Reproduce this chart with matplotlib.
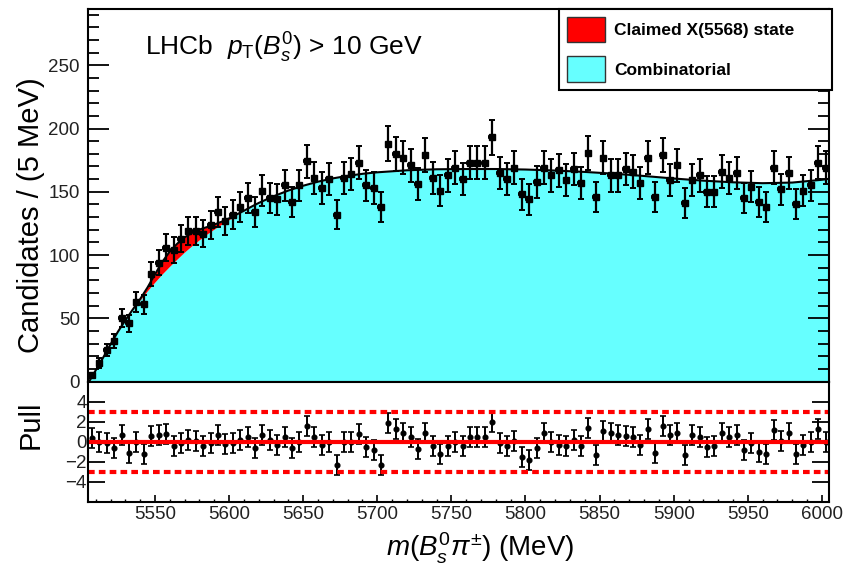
import numpy as np
import matplotlib
matplotlib.use("Agg")
import matplotlib.pyplot as plt
from matplotlib.patches import Patch
from matplotlib.ticker import MultipleLocator

plt.rcParams['font.family'] = ['Liberation Sans', 'DejaVu Sans']
plt.rcParams['mathtext.fontset'] = 'custom'
plt.rcParams['mathtext.rm'] = 'Liberation Sans'
plt.rcParams['mathtext.it'] = 'Liberation Sans:italic'
plt.rcParams['mathtext.bf'] = 'Liberation Sans:bold'

# binning: 5 MeV bins from 5505 to 6005
bin_lo = 5505
bin_w = 5
counts = [5, 15, 25, 32, 50, 46, 63, 61, 85, 94,
          106, 104, 113, 119, 119, 117, 124, 134, 127, 132,
          138, 145, 134, 151, 145, 144, 155, 142, 155, 174,
          161, 153, 160, 132, 161, 164, 173, 155, 153, 138,
          188, 180, 177, 171, 156, 179, 161, 151, 163, 169,
          160, 173, 173, 173, 193, 165, 160, 169, 148, 144,
          158, 169, 163, 167, 159, 168, 157, 181, 146, 177,
          163, 163, 168, 166, 157, 177, 146, 179, 159, 171,
          141, 159, 163, 150, 150, 166, 161, 165, 145, 154,
          142, 138, 169, 152, 165, 140, 151, 155, 173, 169]

pulls = [0.34, 0.0, -0.16, -0.6, 0.67, -1.1, 0.0, -1.23, 0.6, 0.67,
         0.77, -0.43, -0.16, 0.17, 0.07, -0.43, -0.1, 0.67, -0.26, -0.16,
         0.17, 0.5, -0.66, 0.67, 0.17, -0.33, 0.44, -0.66, 0.0, 1.57,
         0.44, -0.33, 0.0, -2.33, 0.0, 0.0, 0.77, -0.5, -0.83, -2.33,
         1.84, 1.24, 0.84, 0.44, -0.75, 0.9, -0.4, -1.23, -0.4, 0.0,
         -0.43, 0.44, 0.44, 0.5, 2.0, -0.16, -0.4, 0.1, -1.56, -1.83,
         -0.66, 0.84, 0.0, -0.33, -0.4, 0.17, -0.4, 1.4, -1.33, 1.1,
         0.84, 0.67, 0.57, 0.44, -0.33, 1.24, -1.1, 1.57, 0.67, 0.9,
         -1.33, 0.67, 0.44, -0.5, -0.43, 0.84, 0.44, 0.67, -0.83, -0.1,
         -1.0, -1.23, 1.17, 0.07, 0.84, -1.23, -0.33, 0.0, 1.24, 0.0]

# combinatorial background shape
bg_mass = [5505, 5506, 5510, 5515, 5520, 5525, 5530, 5535, 5540, 5545,
           5550, 5555, 5560, 5565, 5570, 5575, 5580, 5585, 5590, 5595,
           5600, 5605, 5610, 5615, 5620, 5630, 5640, 5650, 5660, 5670,
           5680, 5690, 5700, 5720, 5740, 5760, 5780, 5800, 5820, 5840,
           5860, 5880, 5900, 5920, 5940, 5960, 5980, 6000, 6005]
bg_vals = [0, 1, 9, 19, 29.5, 39.5, 48.5, 57, 64.5, 72,
           78.8, 85.3, 91.3, 97, 102.5, 107.5, 112.2, 116.6, 120.6, 124.4,
           128, 131.6, 135, 138.2, 141.2, 146.5, 151, 154.8, 158, 160.6,
           162.6, 164.2, 165.4, 167, 167.8, 168, 168, 167.6, 166.8, 165.7,
           164.3, 162.5, 160.5, 158.8, 157.5, 156.8, 157.3, 159.5, 160.3]

# claimed X(5568) contribution on top of the background
sig_mass = [5540, 5545, 5550, 5555, 5560, 5565, 5570, 5575, 5580, 5585,
            5590, 5595, 5600, 5605, 5610]
sig_vals = [0.8, 2.5, 6, 9.5, 11.5, 12, 11.5, 10, 8, 5.5,
            3.5, 2, 1, 0.4, 0]

centers = bin_lo + bin_w * (np.arange(len(counts)) + 0.5)
counts = np.array(counts, dtype=float)
bg_mass = np.array(bg_mass, dtype=float)
bg_vals = np.array(bg_vals, dtype=float)
total = bg_vals.copy()
idx = np.searchsorted(bg_mass, sig_mass)
total[idx] += np.array(sig_vals)

cyan = '#66ffff'

fig = plt.figure(figsize=(8.46, 5.69), dpi=100)
W, H = 846.0, 569.0
x0, x1 = 88.3, 829.3
ax = fig.add_axes([x0 / W, (H - 381.7) / H, (x1 - x0) / W, (381.7 - 9) / H])
axp = fig.add_axes([x0 / W, (H - 501.7) / H, (x1 - x0) / W, 120 / H])

# main panel
ax.fill_between(bg_mass, 0, bg_vals, color=cyan, lw=0, zorder=1)
ax.fill_between(bg_mass, bg_vals, total, where=total > bg_vals + 0.01,
                color='red', lw=0, zorder=1.5)
ax.plot(bg_mass, total, color='k', lw=1.5, zorder=2)
ax.errorbar(centers, counts, xerr=bin_w / 2, fmt='none', ecolor='k',
            elinewidth=2.6, zorder=3)
ax.errorbar(centers, counts, yerr=np.sqrt(counts), fmt='s', ms=4,
            color='k', elinewidth=1.6, capsize=2.3, capthick=1.4, zorder=3)

ax.set_xlim(5505, 6005)
ax.set_ylim(0, 294.4)
ax.yaxis.set_major_locator(MultipleLocator(50))
ax.yaxis.set_minor_locator(MultipleLocator(10))
ax.tick_params(axis='y', which='both', direction='in', left=True, right=True,
               labelsize=13.5, pad=6, width=1.3, labelcolor='#222222')
ax.tick_params(axis='y', which='major', length=15)
ax.tick_params(axis='y', which='minor', length=8)
ax.tick_params(axis='x', which='both', bottom=False, labelbottom=False)
for s in ax.spines.values():
    s.set_linewidth(1.5)
    s.set_zorder(5)

handles = [Patch(facecolor='red', edgecolor='#333333', lw=1),
           Patch(facecolor=cyan, edgecolor='#333333', lw=1)]
leg = ax.legend(handles, ['Claimed X(5568) state', 'Combinatorial'],
                loc='upper left', bbox_to_anchor=(0.6352, 0.745, 0.3678, 0.255),
                mode='expand', borderaxespad=0, fancybox=False, framealpha=1,
                prop={'weight': 'bold', 'size': 12.5}, handlelength=2.2,
                handleheight=1.9, borderpad=0.44, labelspacing=0.8,
                handletextpad=0.52)
leg.get_frame().set_edgecolor('k')
leg.get_frame().set_linewidth(1.5)
leg.set_zorder(6)

fig.text(145 / W, 1 - 56 / H,
         r'LHCb  $\mathit{p}_{\mathrm{T}}(\mathit{B}^{\mathit{0}}_{\mathit{s}})$ > 10 GeV',
         fontsize=19, va='baseline', ha='left')

# pull panel
axp.errorbar(centers, pulls, yerr=1, fmt='o', ms=3.4, color='k',
             elinewidth=1.4, capsize=2, capthick=1.2, zorder=3)
axp.axhline(0, color='red', lw=3, zorder=4)
axp.axhline(3, color='red', lw=3, ls=(0, (1.6, 1.0)), zorder=4)
axp.axhline(-3, color='red', lw=3, ls=(0, (1.6, 1.0)), zorder=4)
axp.set_xlim(5505, 6005)
axp.set_ylim(-6, 6)
axp.set_yticks([-4, -2, 0, 2, 4])
axp.set_yticklabels(['\u22124', '\u22122', '0', '2', '4'])
axp.xaxis.set_major_locator(MultipleLocator(50))
axp.xaxis.set_minor_locator(MultipleLocator(10))
axp.tick_params(axis='y', which='major', direction='in', left=True, right=True,
                length=12, width=1.3, labelsize=13.5, pad=1, labelcolor='#222222')
axp.tick_params(axis='x', which='major', direction='in', length=5, width=1.2,
                labelsize=13.5, pad=3, labelcolor='#222222')
axp.tick_params(axis='x', which='minor', direction='in', length=2.5, width=1)
for s in axp.spines.values():
    s.set_linewidth(1.5)
    s.set_zorder(5)

fig.text(31 / W, 1 - 215 / H, 'Candidates / (5 MeV)', rotation=90,
         fontsize=21, ha='center', va='center')
fig.text(31 / W, 1 - 425 / H, 'Pull', rotation=90,
         fontsize=21, ha='center', va='center')
fig.text(574 / W, 1 - 548 / H,
         r'$\mathit{m}(\mathit{B}^{\mathit{0}}_{\mathit{s}}\mathit{\pi}^{\pm})$ (MeV)',
         fontsize=20, ha='right', va='center')

fig.savefig('out.png', dpi=100)
